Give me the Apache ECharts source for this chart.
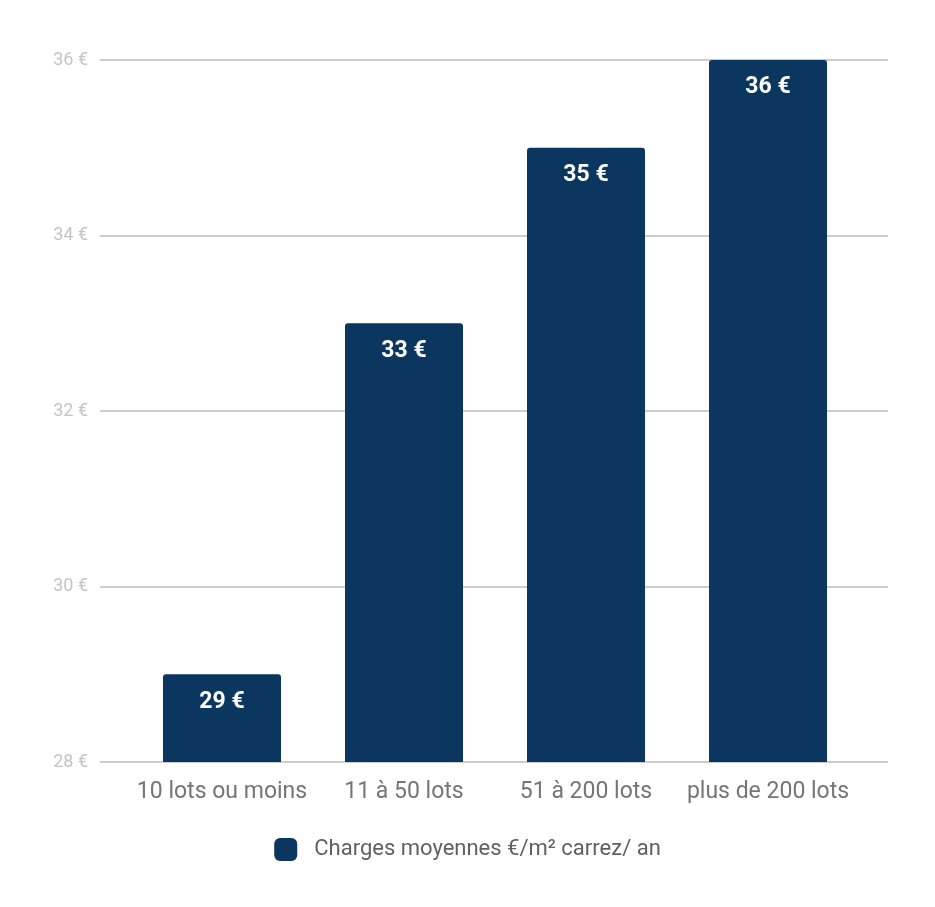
<!DOCTYPE html>
<html>
<head>
<meta charset="utf-8">
<script src="https://cdn.jsdelivr.net/npm/echarts@6/dist/echarts.min.js"></script>
<style>
html,body{margin:0;padding:0;background:#fff;}
#chart{width:935px;height:907px;}
</style>
</head>
<body>
<div id="chart"></div>
<script>
// données
var categories = ['10 lots ou moins', '11 à 50 lots', '51 à 200 lots', 'plus de 200 lots'];
var charges = [29, 33, 35, 36];
var yTicks = [28, 30, 32, 34, 36];
var seriesName = 'Charges moyennes €/m² carrez/ an';

var myChart = echarts.init(document.getElementById('chart'));

var option = {
    backgroundColor: '#fff',
    textStyle: { fontFamily: 'Roboto' },
    animation: false,
    legend: {
        data: [seriesName],
        bottom: 41,
        left: 'center',
        itemWidth: 23,
        itemHeight: 23,
        itemGap: 10,
        icon: 'roundRect',
        textStyle: { fontSize: 22, color: '#616161', fontFamily: 'Roboto', padding: [0, 0, 0, 12] }
    },
    grid: [
        // grille de fond, plus large (lignes)
        { left: 100, right: 47, top: 60, bottom: 145 },
        // grille des barres
        { left: 131, right: 76, top: 60, bottom: 145 }
    ],
    xAxis: [
        { type: 'value', gridIndex: 0, show: false, min: 0, max: 1 },
        {
            type: 'category', gridIndex: 1, data: categories,
            axisLine: { show: false },
            axisTick: { show: false },
            axisLabel: { interval: 0, fontSize: 23, color: '#757575', margin: 19, fontFamily: 'Roboto' }
        }
    ],
    yAxis: [
        {
            type: 'value', gridIndex: 0, min: yTicks[0], max: yTicks[yTicks.length - 1], interval: 2,
            axisLine: { show: false },
            axisTick: { show: false },
            axisLabel: { fontSize: 18, color: '#c4c4c4', margin: 12, formatter: '{value} €', fontFamily: 'Roboto' },
            splitLine: { lineStyle: { color: '#cccccc', width: 2 } }
        },
        {
            type: 'value', gridIndex: 1, min: yTicks[0], max: yTicks[yTicks.length - 1], interval: 2,
            show: false, splitLine: { show: false }
        }
    ],
    series: [
        {
            name: seriesName,
            type: 'bar',
            xAxisIndex: 1,
            yAxisIndex: 1,
            data: charges,
            barWidth: 118,
            itemStyle: { color: '#0a365f', borderRadius: [3, 3, 0, 0] },
            label: {
                show: true,
                position: 'insideTop',
                distance: 16,
                formatter: '{c} €',
                color: '#fff',
                fontWeight: 'bold',
                fontSize: 23,
                fontFamily: 'Roboto'
            }
        }
    ]
};

myChart.setOption(option);
</script>
</body>
</html>
